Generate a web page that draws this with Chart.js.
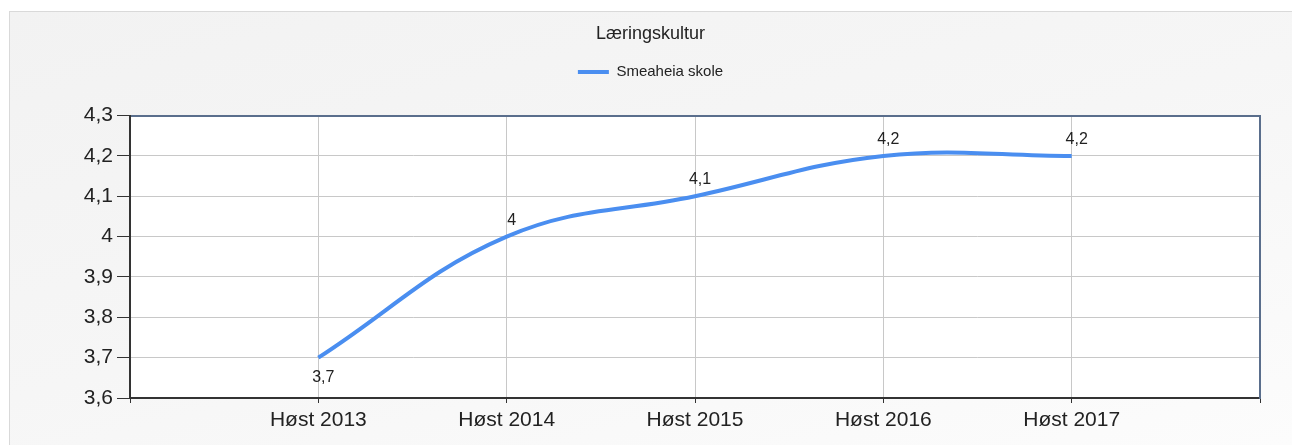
<!DOCTYPE html>
<html lang="no">
<head>
<meta charset="utf-8">
<title>Læringskultur</title>
<script src="https://cdn.jsdelivr.net/npm/chart.js@4.4.1/dist/chart.umd.min.js"></script>
<style>
  html, body { margin: 0; padding: 0; background: #fff; }
  #panel {
    position: absolute; left: 9px; top: 11px; width: 1283px; height: 434px;
    background: linear-gradient(165deg, #f2f2f2 0%, #f6f6f6 50%, #fcfcfc 100%);
    box-shadow: inset 1px 1px 0 #d9d9d9;
  }
  #panel canvas { position: absolute; left: 0; top: 0; }
</style>
</head>
<body>
<div id="panel"><canvas id="chart" width="1283" height="434"></canvas></div>
<script>
const chartTitle = 'Læringskultur';
const seriesName = 'Smeaheia skole';
const seasons = ['Høst 2013', 'Høst 2014', 'Høst 2015', 'Høst 2016', 'Høst 2017'];
const values = [3.7, 4, 4.1, 4.2, 4.2];
const yMin = 3.6;
const yMax = 4.3;
const yStep = 0.1;

// one empty slot on each side of the x axis, like the original
const labels = ['', ...seasons, ''];
const data = [null, ...values, null];

const FONT = '"Liberation Sans", Arial, sans-serif';
const BLUE = '#4a8ef0';

function komma(v) {
    return String(Math.round(v * 10) / 10).replace('.', ',');
}

// white plot area on the grey panel
const plotBg = {
    id: 'plotBg',
    beforeDraw(chart) {
        const a = chart.chartArea;
        chart.ctx.save();
        chart.ctx.fillStyle = '#fff';
        chart.ctx.fillRect(a.left, a.top, a.right - a.left, a.bottom - a.top);
        chart.ctx.restore();
    }
};

// extra room under the legend
const legendGap = {
    id: 'legendGap',
    beforeInit(chart) {
        const fit = chart.legend.fit;
        chart.legend.fit = function () {
            fit.bind(chart.legend)();
            this.height += 26;
        };
    }
};

// value next to every point, lowest one goes below
const valueLabels = {
    id: 'valueLabels',
    afterDatasetsDraw(chart) {
        const ctx = chart.ctx;
        const meta = chart.getDatasetMeta(0);
        const lowest = Math.min(...values);
        ctx.save();
        ctx.font = '16px ' + FONT;
        ctx.fillStyle = '#222';
        ctx.textAlign = 'center';
        ctx.textBaseline = 'alphabetic';
        meta.data.forEach((pt, i) => {
            const v = data[i];
            if (v === null) return;
            const y = v === lowest ? pt.y + 24 : pt.y - 12;
            ctx.fillText(komma(v), pt.x + 5, y);
        });
        ctx.restore();
    }
};

new Chart(document.getElementById('chart'), {
    type: 'line',
    data: {
        labels: labels,
        datasets: [{
            label: seriesName,
            data: data,
            borderColor: BLUE,
            backgroundColor: BLUE,
            borderWidth: 4,
            tension: 0.4,
            pointRadius: 0,
            pointHoverRadius: 0
        }]
    },
    options: {
        responsive: false,
        animation: false,
        layout: { padding: 0 },
        plugins: {
            title: {
                display: true,
                text: chartTitle,
                color: '#222',
                font: { family: FONT, size: 18, weight: 'normal' },
                padding: { top: 12, bottom: 10 }
            },
            legend: {
                display: true,
                labels: {
                    color: '#222',
                    font: { family: FONT, size: 15 },
                    boxWidth: 31,
                    boxHeight: 4,
                    padding: 10,
                    generateLabels(chart) {
                        return Chart.defaults.plugins.legend.labels.generateLabels(chart)
                            .map(l => Object.assign(l, { lineWidth: 0, fillStyle: BLUE }));
                    }
                }
            },
            tooltip: { enabled: false }
        },
        scales: {
            x: {
                type: 'category',
                offset: false,
                grid: { color: '#c8c8c8', tickColor: '#333', tickLength: 5 },
                border: { color: '#333', width: 2, z: 1 },
                ticks: {
                    color: '#222', font: { family: FONT, size: 21 },
                    padding: 5, maxRotation: 0, autoSkip: false
                },
                afterFit(s) { s.height = 47; }
            },
            xTop: {
                type: 'category',
                position: 'top',
                grid: { display: false },
                ticks: { display: false },
                border: { color: '#5a6e8c', width: 2, z: 1 },
                afterFit(s) { s.height = 0; }
            },
            y: {
                min: yMin,
                max: yMax,
                grid: { color: '#c8c8c8', tickColor: '#333', tickLength: 13 },
                border: { color: '#333', width: 2, z: 1 },
                ticks: {
                    stepSize: yStep,
                    color: '#222', font: { family: FONT, size: 21 },
                    padding: 4,
                    callback: v => komma(v)
                },
                afterFit(s) { s.width = 121; }
            },
            yRight: {
                type: 'linear',
                position: 'right',
                grid: { display: false },
                ticks: { display: false },
                border: { color: '#5a6e8c', width: 2, z: 1 },
                afterFit(s) { s.width = 32; }
            }
        }
    },
    plugins: [plotBg, legendGap, valueLabels]
});
</script>
</body>
</html>
